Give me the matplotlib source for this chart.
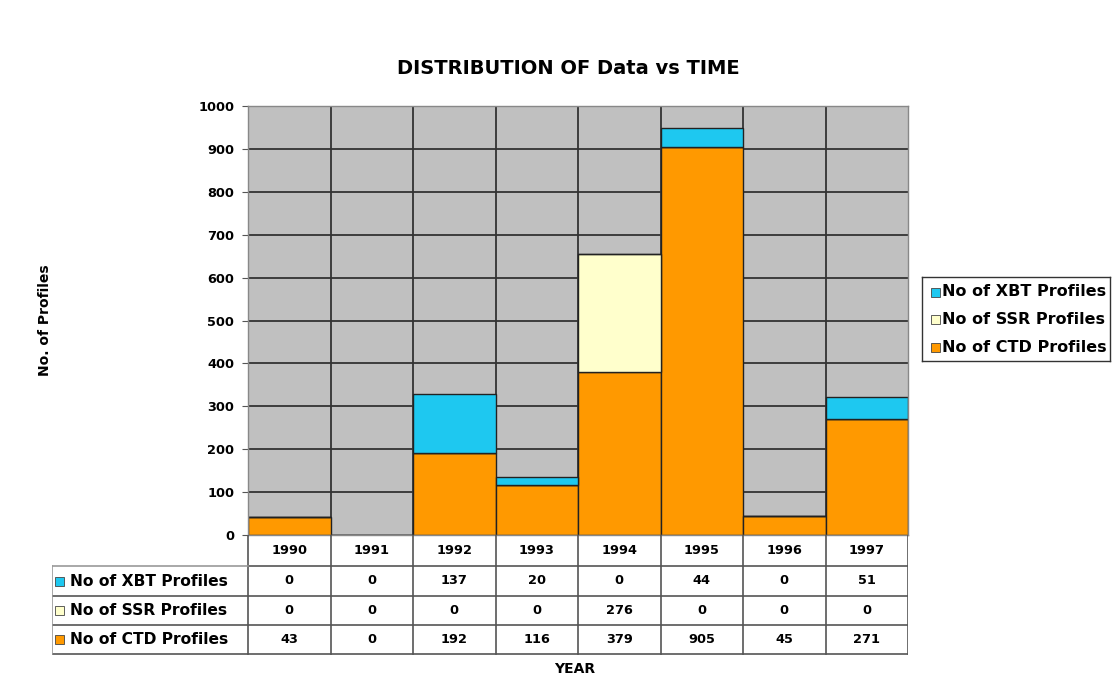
import matplotlib
matplotlib.use("Agg")
import matplotlib.pyplot as plt
from matplotlib.patches import Rectangle
import numpy as np

years = ["1990", "1991", "1992", "1993", "1994", "1995", "1996", "1997"]
xbt = [0, 0, 137, 20, 0, 44, 0, 51]
ssr = [0, 0, 0, 0, 276, 0, 0, 0]
ctd = [43, 0, 192, 116, 379, 905, 45, 271]
series_names = ["No of XBT Profiles", "No of SSR Profiles", "No of CTD Profiles"]
series_vals = [xbt, ssr, ctd]
colors = ["#1EC8F0", "#FFFFCC", "#FF9900"]
yticks = list(range(0, 1001, 100))

plt.rcParams['font.family'] = ['DejaVu Sans']
plt.rcParams['font.weight'] = 'bold'

W, H = 1112, 677
fig = plt.figure(figsize=(W / 100, H / 100), dpi=100)

def px_axes(x0, y0, x1, y1):
    return fig.add_axes([x0 / W, 1 - y1 / H, (x1 - x0) / W, (y1 - y0) / H])

ax = px_axes(248, 106, 908, 535)
x = np.arange(len(years))
ax.set_facecolor("#C0C0C0")
ax.set_xlim(-0.5, len(years) - 0.5)
ax.set_ylim(0, 1000)
ax.set_yticks(yticks)
ax.set_yticklabels([str(v) for v in yticks], fontsize=9.3, fontweight='bold')
ax.set_xticks([])
ax.tick_params(axis='y', length=4, width=0.8, color="#555555", pad=6)
for yv in yticks[1:]:
    ax.axhline(yv, color="#333333", lw=1.3, zorder=1)
for b in np.arange(0.5, len(years) - 0.5, 1):
    ax.axvline(b, color="#333333", lw=1.3, zorder=1)
ctd_a = np.array(ctd); ssr_a = np.array(ssr); xbt_a = np.array(xbt)
ax.bar(x, ctd_a, width=1.0, color=colors[2], edgecolor="#222222", lw=1.0, zorder=2)
ax.bar(x, ssr_a, width=1.0, bottom=ctd_a, color=colors[1], edgecolor="#222222", lw=1.0, zorder=2)
ax.bar(x, xbt_a, width=1.0, bottom=ctd_a + ssr_a, color=colors[0], edgecolor="#222222", lw=1.0, zorder=2)
for s in ax.spines.values():
    s.set_color("#888888")
    s.set_linewidth(1.0)

fig.text(568 / W, 1 - 68 / H, "DISTRIBUTION OF Data vs TIME", ha='center', va='center',
         fontsize=14, fontweight='bold')
fig.text(45 / W, 1 - 320 / H, "No. of Profiles", ha='center', va='center', rotation=90,
         fontsize=10, fontweight='bold')
fig.text(575 / W, 1 - 669 / H, "YEAR", ha='center', va='center', fontsize=10, fontweight='bold')

# data table
colw = 82.5
L = (248 - 52) / colw
tx = px_axes(52, 535, 908, 656)
tx.set_xlim(-L, len(years))
tx.set_ylim(656, 535)
tx.axis('off')
row_y = [535, 566, 596, 625, 654]
lc = "#555555"
tx.plot([0, 0], [row_y[0], row_y[-1]], color=lc, lw=1.2)
for i in range(1, len(years) + 1):
    tx.plot([i, i], [row_y[0], row_y[-1]], color=lc, lw=1.2)
for yv in row_y[1:]:
    tx.plot([0 if yv == row_y[1] else -L, len(years)], [yv, yv], color=lc, lw=1.2)
tx.plot([-L, 0], [row_y[1], row_y[1]], color="#999999", lw=1.2)
tx.plot([-L, -L], [row_y[1], row_y[-1]], color="#999999", lw=1.2)
for i, yr in enumerate(years):
    tx.text(i + 0.5, (row_y[0] + row_y[1]) / 2, yr, ha='center', va='center', fontsize=9.3,
            fontweight='bold')
for r, (name, vals, c) in enumerate(zip(series_names, series_vals, colors)):
    yc = (row_y[r + 1] + row_y[r + 2]) / 2
    tx.add_patch(Rectangle((-L + 0.04, yc - 4.5), 0.11, 9, facecolor=c, edgecolor="#444444", lw=0.6))
    tx.text(-L + 0.22, yc, name, ha='left', va='center', fontsize=11.2, fontweight='bold')
    for i, v in enumerate(vals):
        tx.text(i + 0.5, yc, str(v), ha='center', va='center', fontsize=9.3, fontweight='bold')

# legend
lg = px_axes(922, 277, 1110, 361)
lg.set_xlim(0, 188); lg.set_ylim(84, 0)
lg.set_xticks([]); lg.set_yticks([])
for s in lg.spines.values():
    s.set_color("#333333"); s.set_linewidth(1.0)
for r, (name, c) in enumerate(zip(series_names, colors)):
    yc = 15 + r * 27.5
    lg.add_patch(Rectangle((9, yc - 4.5), 9, 9, facecolor=c, edgecolor="#444444", lw=0.6))
    lg.text(20, yc, name, ha='left', va='center', fontsize=11.5, fontweight='bold')

fig.savefig("out.png", dpi=100)
